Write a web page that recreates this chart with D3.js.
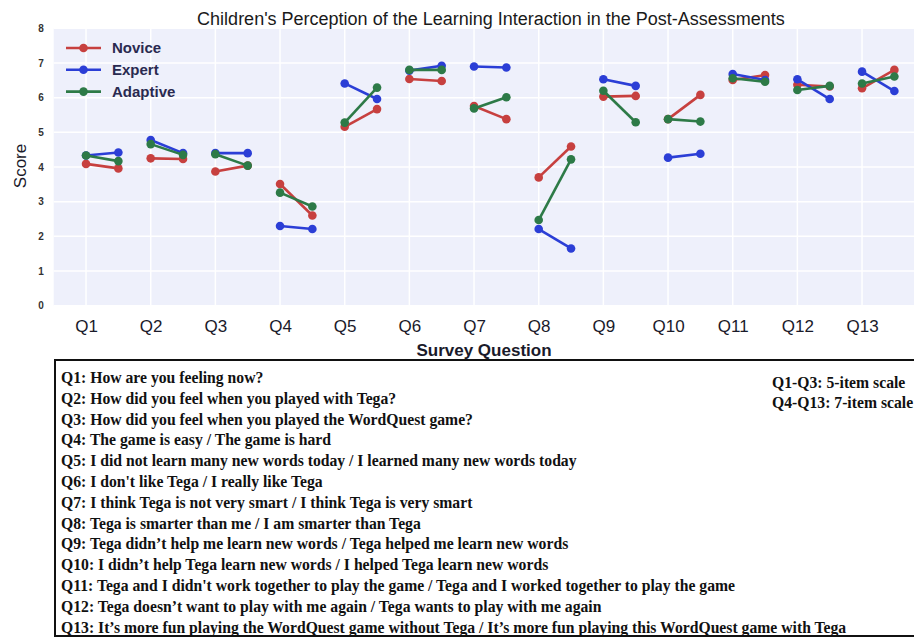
<!DOCTYPE html>
<html><head><meta charset="utf-8">
<script src="https://cdn.jsdelivr.net/npm/d3@7"></script>
<style>body{margin:0;background:#fff}svg{display:block}</style>
</head><body>
<svg id="c" width="914" height="641"></svg>
<script>
const questions = ["Q1","Q2","Q3","Q4","Q5","Q6","Q7","Q8","Q9","Q10","Q11","Q12","Q13"];
const seriesNames = ["Novice","Expert","Adaptive"];
// each entry: [first point, second point] per question
const novice   = [[4.09,3.96],[4.25,4.23],[3.87,4.04],[3.51,2.60],[5.16,5.67],[6.54,6.48],[5.76,5.38],[3.70,4.59],[6.03,6.05],[5.38,6.08],[6.51,6.65],[6.37,6.32],[6.27,6.80]];
const expert   = [[4.33,4.42],[4.78,4.40],[4.40,4.40],[2.30,2.21],[6.41,5.96],[6.78,6.92],[6.90,6.87],[2.21,1.65],[6.53,6.34],[4.27,4.38],[6.68,6.51],[6.53,5.96],[6.75,6.19]];
const adaptive = [[4.33,4.17],[4.66,4.35],[4.37,4.04],[3.26,2.86],[5.28,6.29],[6.80,6.80],[5.69,6.01],[2.47,4.22],[6.20,5.29],[5.38,5.31],[6.56,6.46],[6.22,6.34],[6.41,6.61]];
const yTicks = [0,1,2,3,4,5,6,7,8];
const descriptions = [
 "Q1: How are you feeling now?",
 "Q2: How did you feel when you played with Tega?",
 "Q3: How did you feel when you played the WordQuest game?",
 "Q4: The game is easy / The game is hard",
 "Q5: I did not learn many new words today / I learned many new words today",
 "Q6: I don't like Tega / I really like Tega",
 "Q7: I think Tega is not very smart / I think Tega is very smart",
 "Q8: Tega is smarter than me / I am smarter than Tega",
 "Q9: Tega didn\u2019t help me learn new words / Tega helped me learn new words",
 "Q10: I didn\u2019t help Tega learn new words / I helped Tega learn new words",
 "Q11: Tega and I didn't work together to play the game / Tega and I worked together to play the game",
 "Q12: Tega doesn\u2019t want to play with me again / Tega wants to play with me again",
 "Q13: It\u2019s more fun playing the WordQuest game without Tega / It\u2019s more fun playing this WordQuest game with Tega"
];
const scaleNotes = ["Q1-Q3: 5-item scale","Q4-Q13: 7-item scale"];
const colors = ["#c7403f","#2b3ed6","#2d7a47"];

const svg = d3.select("#c");
const x = d3.scaleLinear().domain([-0.5, 13]).range([53.7, 926.7]);
const y = d3.scaleLinear().domain([0, 8]).range([305.7, 28.3]);

// plot background
svg.append("rect").attr("x", x(-0.5)).attr("y", y(8)).attr("width", x(13)-x(-0.5)).attr("height", y(0)-y(8)).attr("fill", "#eef0fb");
const g = svg.append("g");
g.selectAll("line.hg").data(yTicks).join("line").attr("class","hg")
 .attr("x1", x(-0.5)).attr("x2", x(13)).attr("y1", d=>y(d)).attr("y2", d=>y(d))
 .attr("stroke","#fff").attr("stroke-width",1.5);
g.selectAll("line.vg").data(questions).join("line").attr("class","vg")
 .attr("x1", (d,i)=>x(i)).attr("x2", (d,i)=>x(i)).attr("y1", y(8)).attr("y2", y(0))
 .attr("stroke","#fff").attr("stroke-width",1.5);

// y axis
const yAxis = d3.axisLeft(y).tickValues(yTicks).tickSize(0).tickPadding(10).tickFormat(d3.format("d"));
const ya = svg.append("g").attr("transform", `translate(${x(-0.5)},0)`).call(yAxis);
ya.select(".domain").remove();
ya.selectAll("text").attr("font-family","Liberation Sans, Arial, sans-serif").attr("font-size",10).attr("font-weight","bold").attr("fill","#333");

// x axis
const xAxis = d3.axisBottom(x).tickValues(d3.range(questions.length)).tickSize(0).tickPadding(14).tickFormat(i=>questions[i]);
const xa = svg.append("g").attr("transform", `translate(0,${y(0)})`).call(xAxis);
xa.select(".domain").remove();
xa.selectAll("text").attr("font-family","Liberation Sans, Arial, sans-serif").attr("font-size",17).attr("fill","#1a1a2a");

// series
const allSeries = [novice, expert, adaptive];
allSeries.forEach((s, si) => {
  const sg = svg.append("g");
  s.forEach((pair, qi) => {
    const pts = [[qi, pair[0]], [qi + 0.5, pair[1]]];
    sg.append("path").attr("d", d3.line().x(p=>x(p[0])).y(p=>y(p[1]))(pts))
      .attr("stroke", colors[si]).attr("stroke-width", 2.6).attr("fill","none");
    sg.selectAll(null).data(pts).join("circle")
      .attr("cx", p=>x(p[0])).attr("cy", p=>y(p[1])).attr("r", 4.3).attr("fill", colors[si]);
  });
});

// legend
const lg = svg.append("g");
seriesNames.forEach((n, i) => {
  const ly = 48 + i*21.8;
  lg.append("line").attr("x1",66).attr("x2",101).attr("y1",ly).attr("y2",ly).attr("stroke",colors[i]).attr("stroke-width",2.6);
  lg.append("circle").attr("cx",83.5).attr("cy",ly).attr("r",4.3).attr("fill",colors[i]);
  lg.append("text").attr("x",112).attr("y",ly+5).text(n)
    .attr("font-family","Liberation Sans, Arial, sans-serif").attr("font-size",15).attr("font-weight","bold").attr("fill","#2a2a50");
});

// titles
svg.append("text").attr("x",491).attr("y",25).attr("text-anchor","middle").text("Children's Perception of the Learning Interaction in the Post-Assessments")
  .attr("font-family","Liberation Sans, Arial, sans-serif").attr("font-size",18).attr("fill","#1a1a1a");
svg.append("text").attr("x",484).attr("y",356).attr("text-anchor","middle").text("Survey Question")
  .attr("font-family","Liberation Sans, Arial, sans-serif").attr("font-size",17).attr("font-weight","bold").attr("fill","#1a1a2a");
svg.append("text").attr("transform","translate(26,166) rotate(-90)").attr("text-anchor","middle").text("Score")
  .attr("font-family","Liberation Sans, Arial, sans-serif").attr("font-size",17).attr("fill","#1a1a2a");

// description box
svg.append("rect").attr("x",55).attr("y",360).attr("width",900).attr("height",276).attr("fill","none").attr("stroke","#111").attr("stroke-width",2);
svg.selectAll("text.desc").data(descriptions).join("text").attr("class","desc")
  .attr("x",61).attr("y",(d,i)=>383 + i*20.8).text(d=>d)
  .attr("font-family","Liberation Serif, Times New Roman, serif").attr("font-size",15.7).attr("font-weight","bold").attr("fill","#111");
svg.selectAll("text.note").data(scaleNotes).join("text").attr("class","note")
  .attr("x",772).attr("y",(d,i)=>388 + i*20).text(d=>d)
  .attr("font-family","Liberation Serif, Times New Roman, serif").attr("font-size",15.7).attr("font-weight","bold").attr("fill","#111");
</script>
</body></html>
